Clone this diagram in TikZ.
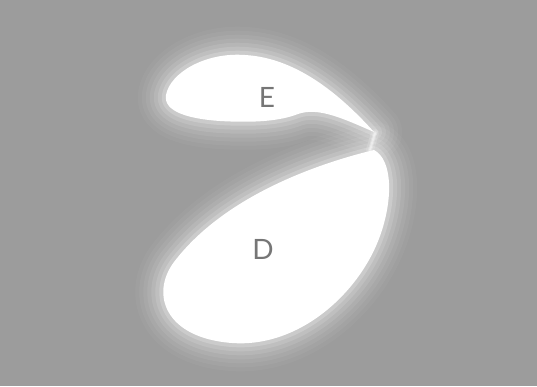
\documentclass[tikz,border=0pt]{standalone}
\usepackage{fontspec}
\setmainfont{Lato}
\definecolor{bgc}{RGB}{156,156,156}
\definecolor{lettc}{RGB}{118,118,118}
\tikzset{
  pathE/.style={insert path={(374,132) .. controls (345,100) and (300,58) .. (245,55) .. controls (205,52) and (170,73) .. (166,95) .. controls (163,112) and (190,119) .. (220,121) .. controls (255,123) and (280,121) .. (298,114) .. controls (318,107) and (342,118) .. (374,132) -- cycle}},
  pathD/.style={insert path={(374,150) .. controls (320,163) and (225,195) .. (174,262) .. controls (150,294) and (165,338) .. (232,343) .. controls (300,348) and (360,292) .. (380,236) .. controls (393,200) and (393,160) .. (374,150) -- cycle}},
  glow/.style={draw=white, line join=round, line cap=round, line width=#1},
  lett/.style={text=lettc, font=\fontsize{28}{28}\selectfont}
}
\begin{document}
\begin{tikzpicture}[x=1pt,y=-1pt]
\fill[bgc] (0,0) rectangle (537,386);
\useasboundingbox (0,0) rectangle (537,386);
% soft halos
\foreach \w/\o in {56/0.04, 48/0.05, 40/0.06, 32/0.08, 24/0.10, 16/0.13, 8/0.2} {
  \path[glow=\w pt, draw opacity=\o, pathE];
  \path[glow=\w pt, draw opacity=\o, pathD];
}
\fill[white, pathE];
\fill[white, pathD];
% faint bridge between the two tips
\coordinate (tipE) at (375,133);
\coordinate (tipD) at (370,150);
\foreach \w/\o in {8/0.15, 4/0.25, 2/0.4} {
  \draw[white, line width=\w pt, opacity=\o, line cap=round] (tipE) -- (tipD);
}
\node[lett] (E) at (267,97) {E};
\node[lett] (D) at (263,249) {D};
\end{tikzpicture}
\end{document}
